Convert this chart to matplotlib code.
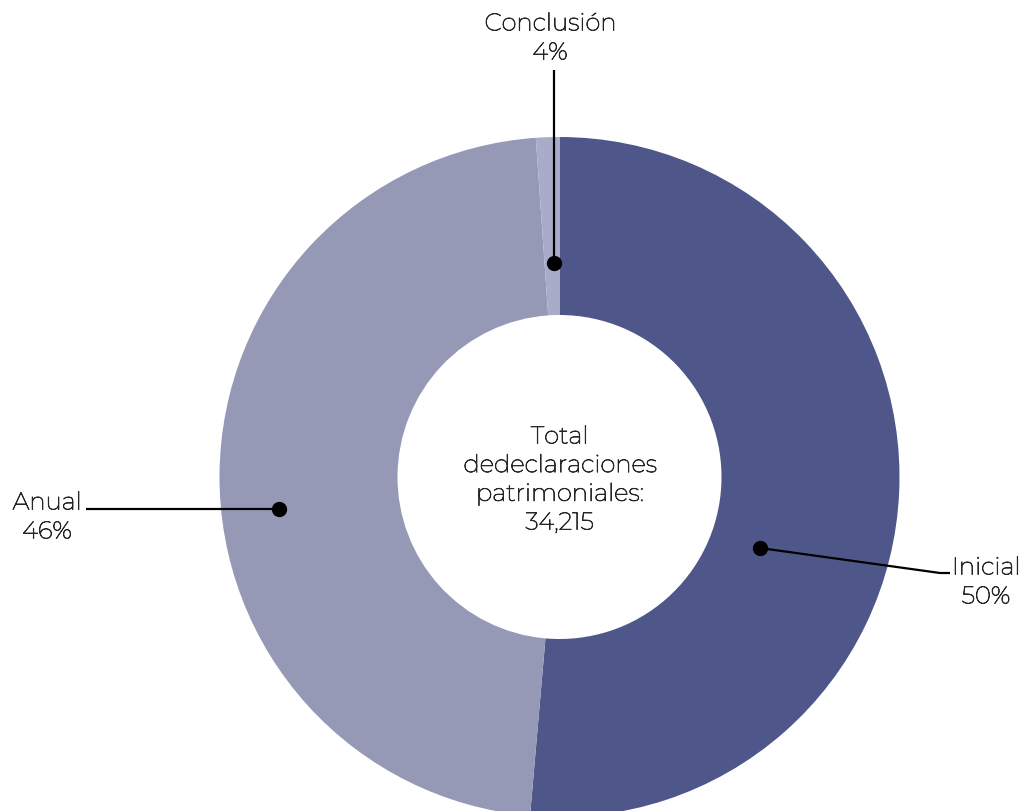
import matplotlib.pyplot as plt
import matplotlib.patheffects as pe

# Data
categories = ['Inicial', 'Anual', 'Conclusión']
values = [17580, 16255, 380]
pct_labels = ['50%', '46%', '4%']
total_label = '34,215'
colors = ['#4F5689', '#9599B6', '#A9ACC8']

W, H = 1022, 811
plt.rcParams['font.family'] = ['Montserrat', 'Open Sans', 'DejaVu Sans']

fig = plt.figure(figsize=(W / 100, H / 100), dpi=100)
ax = fig.add_axes([0, 0, 1, 1])

# pixel helper (y measured from top)
def py(y):
    return H - y

cx, cy = 559.5, py(477)
ax.pie(values, colors=colors, startangle=90, counterclock=False,
       center=(cx, cy), radius=340, frame=True,
       wedgeprops=dict(width=178, linewidth=0))
ax.set_xlim(0, W)
ax.set_ylim(0, H)
ax.set_aspect('equal')
ax.axis('off')

# ---- leader lines: (dot, path, text position) ----
leaders = {
    'Inicial': ([(760, 548), (940, 573), (950, 573)], (986, 568)),
    'Anual': ([(279, 509), (86, 509)], (47, 503)),
    'Conclusión': ([(554, 263), (554, 70)], (550, 24)),
}

txt_color = '#262626'
txt_kw = dict(fontsize=17.5, color=txt_color, ha='center', va='center',
              path_effects=[pe.Stroke(linewidth=0.55, foreground=txt_color), pe.Normal()])
for cat, pct in zip(categories, pct_labels):
    path, (tx, ty) = leaders[cat]
    xs = [p[0] for p in path]
    ys = [py(p[1]) for p in path]
    ax.plot(xs, ys, color='black', lw=1.6, solid_capstyle='butt')
    ax.plot(xs[0], ys[0], 'o', color='black', markersize=10)
    ax.text(tx, py(ty), cat, **txt_kw)
    ax.text(tx, py(ty + 29), pct, **txt_kw)

# ---- center text ----
center_lines = ['Total', 'dedeclaraciones', 'patrimoniales:', total_label]
for i, line in enumerate(center_lines):
    ax.text(cx, py(437 + i * 28.7), line, **txt_kw)

plt.savefig('out.png', dpi=100)
